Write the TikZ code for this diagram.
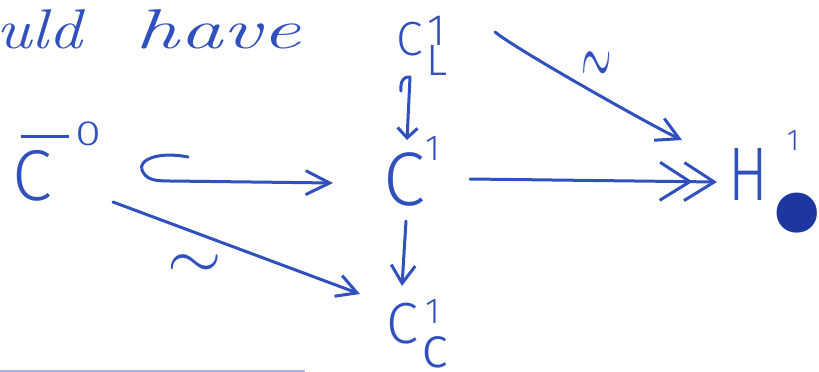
\documentclass[tikz,border=0pt]{standalone}
\usepackage{fontspec}
\usetikzlibrary{arrows.meta,calc}
\newfontfamily\hand{Fira Sans Light}
\definecolor{pen}{RGB}{48,80,190}
\definecolor{ink}{RGB}{30,55,160}
\definecolor{faint}{RGB}{165,182,230}
\tikzset{
  lbl/.style={inner sep=0pt, anchor=base west, text=pen, font=\hand},
  conn/.style={draw=pen, line width=3pt, line cap=round, line join=round},
  tildelbl/.style={inner sep=0pt, text=pen},
}
\begin{document}
\begin{tikzpicture}[x=1pt,y=-1pt]
\useasboundingbox (0,0) rectangle (819,372);
% handwritten words
\node[anchor=base west, inner sep=0pt, text=pen, font=\fontsize{56}{56}\selectfont\itshape] (txt) at (-4,48)
  {\scalebox{1.2}[1]{uld}\hspace{54pt}\scalebox{1.55}[1]{have}};
% objects
\node[lbl] (C0) at (12,200)
  {{\fontsize{72}{72}\selectfont\makebox[0pt][l]{\hspace{9pt}\rule[62pt]{48pt}{3pt}}C}\hspace{24pt}\raisebox{55pt}{\fontsize{35}{35}\selectfont\scalebox{1.35}[1]{0}}};
\node[lbl] (C1L) at (396,55)
  {{\fontsize{48}{48}\selectfont C}\makebox[0pt][l]{\hspace{5pt}\raisebox{10pt}{\fontsize{44}{44}\selectfont 1}}\hspace{4pt}\raisebox{-20pt}{\fontsize{44}{44}\selectfont L}};
\node[lbl] (C1) at (383,205)
  {{\fontsize{76}{76}\selectfont C}\raisebox{45pt}{\fontsize{36}{36}\selectfont 1}};
\node[lbl] (H) at (728,200)
  {{\fontsize{76}{76}\selectfont\scalebox{0.78}[1]{H}}\makebox[0pt][l]{\hspace{19pt}\raisebox{50pt}{\fontsize{30}{30}\selectfont 1}}\hspace{-9pt}\raisebox{-106pt}{\fontsize{270}{270}\selectfont\color{ink}•}};
\node[lbl] (C1c) at (386,343)
  {{\fontsize{58}{58}\selectfont C}\makebox[0pt][l]{\hspace{7pt}\raisebox{20pt}{\fontsize{36}{36}\selectfont 1}}\hspace{3pt}\raisebox{-24pt}{\fontsize{58}{58}\selectfont c}};
% connectors
\draw[conn, -{Straight Barb[length=10pt,width=20pt]}]
  ($(C1L.base west)+(5,36)$) .. controls +(-1,-10) and +(-6,-1) .. ($(C1L.base west)+(14,22)$)
  -- ($(C1.base west)+(24,-65)$);
\draw[conn, -{Straight Barb[length=18pt,width=24pt]}]
  ($(C1.base west)+(23,16)$) -- ($(C1c.base west)+(16,-57)$);
\draw[conn, -{Straight Barb[length=24pt,width=24pt]}]
  ($(C0.base west)+(176,-43)$) .. controls +(-30,-6) and +(-4,-10) .. ++(-46,13)
  .. controls +(4,10) and +(-15,0) .. ++(28,11) -- ($(C1.base west)+(-50,-22)$);
\draw[conn, -{Straight Barb[length=30pt,width=38pt,sep=-10pt]Straight Barb[length=30pt,width=38pt]}]
  ($(C1.base west)+(87,-26)$) -- ($(H.base west)+(-11,-18)$);
\draw[conn, -{Straight Barb[length=22pt,width=24pt]}]
  ($(C1L.base west)+(99,-23)$) .. controls +(22,18) and +(-30,-14) .. ($(H.base west)+(-46,-60)$);
\draw[conn, -{Straight Barb[length=20pt,width=22pt]}]
  ($(C0.base west)+(101,2)$) -- ($(C1c.base west)+(-26,-49)$);
% labels of the two isomorphisms
\node[tildelbl] (t1) at ($(C1L.base west)+(201,14)$)
  {\scalebox{3.9}[9.5]{$\sim$}};
\node[tildelbl] (t2) at ($(C0.base west)+(183,67)$)
  {\scalebox{7}[6.5]{$\sim$}};
% faint ruled line at the bottom edge
\fill[faint] (0,369.5) rectangle (305,372);
\end{tikzpicture}
\end{document}
